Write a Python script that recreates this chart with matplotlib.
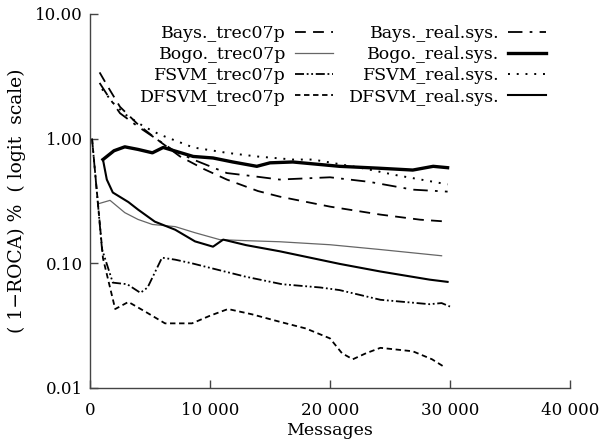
import numpy as np
import matplotlib
matplotlib.use("Agg")
import matplotlib.pyplot as plt
from matplotlib.ticker import FixedLocator, NullLocator

plt.rcParams['font.family'] = ['DejaVu Serif']

# data (messages, (1-ROCA)%)
bays_trec_x = [800, 1500, 2500, 4000, 5500, 7500, 9500, 11400, 14000, 15800, 20000, 24200, 27500, 29800]
bays_trec_y = [3.4, 2.6, 1.8, 1.3, 1.0, 0.72, 0.57, 0.47, 0.38, 0.343, 0.285, 0.246, 0.224, 0.216]

bogo_trec_x = [670, 1670, 2900, 4000, 5200, 7100, 8750, 10800, 13000, 15800, 20000, 24200, 29300]
bogo_trec_y = [0.30, 0.32, 0.255, 0.225, 0.205, 0.197, 0.176, 0.155, 0.152, 0.149, 0.141, 0.129, 0.115]

fsvm_trec_x = [170, 1000, 1900, 3100, 4200, 4800, 6000, 7100, 8500, 10000, 13000, 16000, 19200,
               20800, 24200, 28300, 29300, 30000]
fsvm_trec_y = [1.0, 0.13, 0.07, 0.068, 0.058, 0.064, 0.111, 0.107, 0.10, 0.092, 0.078, 0.068, 0.064,
               0.061, 0.051, 0.047, 0.048, 0.045]

dfsvm_trec_x = [170, 1080, 2100, 3200, 4600, 6250, 8500, 10000, 11500, 13500, 15800, 18000, 20000,
                21000, 21900, 23000, 24200, 26900, 28500, 29600]
dfsvm_trec_y = [1.0, 0.11, 0.043, 0.049, 0.041, 0.033, 0.033, 0.038, 0.043, 0.039, 0.034, 0.030, 0.025,
                0.019, 0.017, 0.019, 0.021, 0.0197, 0.017, 0.0146]

bays_real_x = [800, 1500, 2500, 4000, 5500, 7000, 8600, 11400, 13600, 15800, 20000, 23300, 26900, 29800]
bays_real_y = [2.8, 2.2, 1.6, 1.25, 1.0, 0.8, 0.68, 0.53, 0.50, 0.47, 0.49, 0.45, 0.39, 0.376]

bogo_real_x = [1080, 2000, 2900, 4000, 5200, 6100, 8600, 10250, 11900, 13900, 15000, 16900, 20800,
               24000, 26900, 28600, 29800]
bogo_real_y = [0.68, 0.80, 0.86, 0.82, 0.77, 0.85, 0.72, 0.70, 0.65, 0.60, 0.64, 0.65, 0.60,
               0.58, 0.56, 0.60, 0.585]

fsvm_real_x = [1000, 2000, 3000, 4500, 5800, 8600, 11400, 13900, 16900, 18600, 22700, 25500, 29800]
fsvm_real_y = [2.5, 1.9, 1.55, 1.25, 1.08, 0.85, 0.77, 0.72, 0.68, 0.68, 0.58, 0.51, 0.43]

dfsvm_real_x = [1080, 1400, 1900, 3200, 4000, 5400, 7100, 8750, 10250, 11100, 13000, 15800, 20800,
                24200, 28300, 29800]
dfsvm_real_y = [0.68, 0.47, 0.37, 0.31, 0.27, 0.216, 0.186, 0.15, 0.136, 0.155, 0.14, 0.125, 0.099,
                0.086, 0.074, 0.071]

ytick_vals = [0.01, 0.1, 1, 10]
ytick_labels = ["0.01", "0.10", "1.00", "10.00"]
xtick_vals = [0, 10000, 20000, 30000, 40000]
xtick_labels = ["0", "10 000", "20 000", "30 000", "40 000"]

fig = plt.figure(figsize=(6.01, 4.45), dpi=100)
ax = fig.add_axes([90 / 601, 1 - 388 / 445, 480 / 601, 374 / 445])

k = 'black'
ax.plot(bays_trec_x, bays_trec_y, color=k, lw=1.3, ls=(0, (6, 4)), label="Bays._trec07p")
ax.plot(bogo_trec_x, bogo_trec_y, color='#666666', lw=0.9, ls='-', label="Bogo._trec07p")
ax.plot(fsvm_trec_x, fsvm_trec_y, color=k, lw=1.3, ls=(0, (5, 1.5, 1, 1.5, 1, 1.5)), label="FSVM_trec07p")
ax.plot(dfsvm_trec_x, dfsvm_trec_y, color=k, lw=1.3, ls=(0, (3, 2)), label="DFSVM_trec07p")
ax.plot(bays_real_x, bays_real_y, color=k, lw=1.3, ls=(0, (8, 4, 1.5, 4)), label="Bays._real.sys.")
ax.plot(bogo_real_x, bogo_real_y, color=k, lw=2.4, ls='-', label="Bogo._real.sys.")
ax.plot(fsvm_real_x, fsvm_real_y, color=k, lw=1.4, ls=(0, (1, 3.5)), label="FSVM_real.sys.")
ax.plot(dfsvm_real_x, dfsvm_real_y, color=k, lw=1.5, ls='-', label="DFSVM_real.sys.")

ax.set_yscale('log')
ax.set_ylim(0.01, 10)
ax.set_xlim(0, 40000)
ax.yaxis.set_major_locator(FixedLocator(ytick_vals))
ax.yaxis.set_minor_locator(NullLocator())
ax.set_yticks(ytick_vals, ytick_labels)
ax.set_xticks(xtick_vals, xtick_labels)

for s in ['top', 'right']:
    ax.spines[s].set_visible(False)
for s in ['left', 'bottom']:
    ax.spines[s].set_color('#444444')
    ax.spines[s].set_linewidth(1.0)
ax.tick_params(direction='in', length=6, width=1.0, color='#444444', labelsize=12, pad=5)
ax.tick_params(axis='x', pad=10)

ax.set_xlabel("Messages", fontsize=12.5, labelpad=2)
ax.set_ylabel("( 1\u2212ROCA) %  ( logit  scale)", fontsize=13.5, labelpad=7)

ax.legend(ncol=2, markerfirst=False, frameon=False, fontsize=12.5,
          loc='upper right', bbox_to_anchor=(546 / 601, 1 - 25 / 445),
          bbox_transform=fig.transFigure, borderpad=0, borderaxespad=0,
          handlelength=2.2, handletextpad=0.5, columnspacing=0.9,
          labelspacing=0.24)

fig.savefig("out.png", dpi=100)
